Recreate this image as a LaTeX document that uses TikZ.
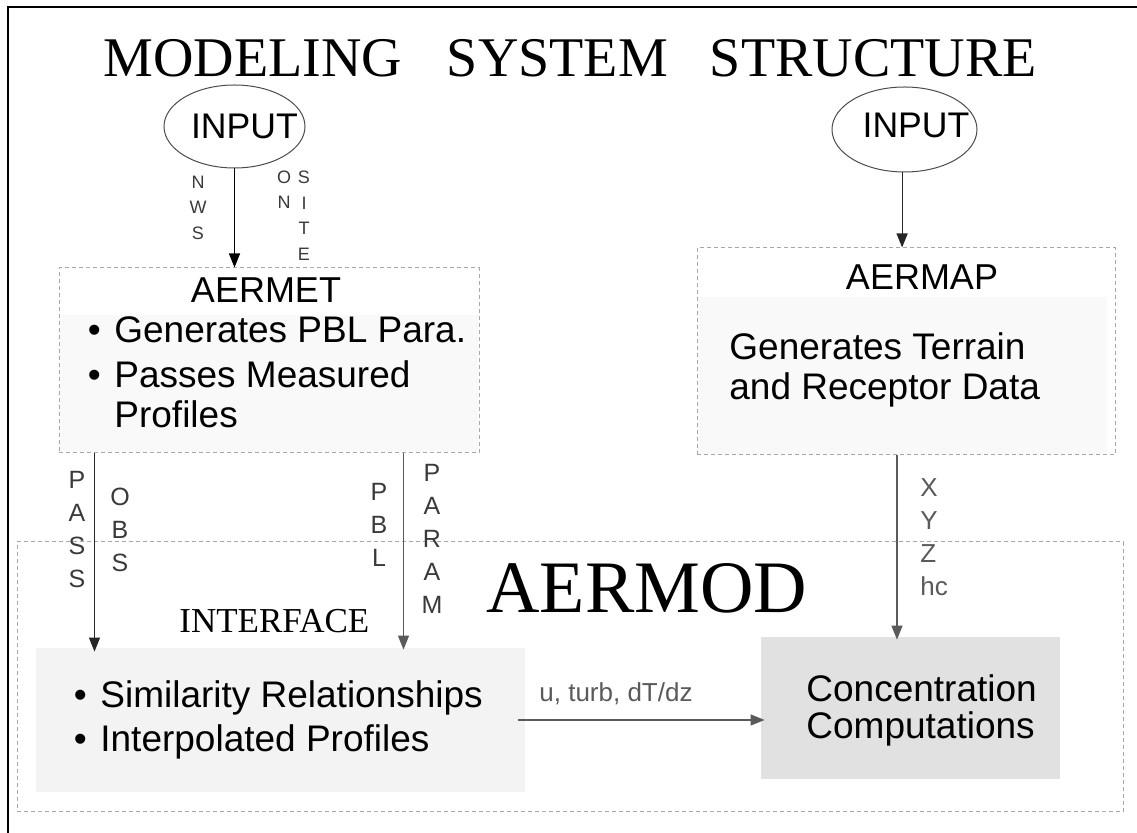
\documentclass[tikz,border=0pt]{standalone}
\usepackage{fontspec}
\setmainfont{Liberation Sans}
\newfontfamily\serifface{Liberation Serif}
\usetikzlibrary{shapes.geometric,arrows.meta}
\definecolor{dashgray}{HTML}{A8A8A8}
\definecolor{fillA}{HTML}{F9F9F9}
\definecolor{fillB}{HTML}{F3F3F3}
\definecolor{fillC}{HTML}{E1E1E1}
\definecolor{labgray}{HTML}{3A3A3A}
\definecolor{arrgray}{HTML}{5A5A5A}
\newcommand\mybul{\makebox[13.25pt][l]{\textbullet}}
\tikzset{
  dbox/.style={draw=dashgray, dash pattern=on 2pt off 1.5pt, line width=0.5pt, inner sep=0},
  inell/.style={ellipse, draw=black!70, line width=0.5pt, inner sep=0},
  arr/.style={-{Triangle[length=7pt,width=5.5pt]}, line width=0.6pt},
  body/.style={font=\fontsize{18.5}{22}\selectfont, inner sep=0},
  hd/.style={font=\fontsize{18}{22}\selectfont, inner sep=0},
  smalllab/.style={font=\fontsize{9}{12.75}\selectfont, align=center, inner sep=0, text=labgray},
  midlab/.style={font=\fontsize{12.5}{16.5}\selectfont, align=center, inner sep=0, text=labgray},
}
\begin{document}
\begin{tikzpicture}[x=0.5pt,y=-0.5pt]
\useasboundingbox (0,0) rectangle (1137,833);
\fill[white] (0,0) rectangle (1137,833);
% outer frame (left and top visible)
\draw[line width=1pt] (8,833) -- (8,7) -- (1137,7);

% title
\node[font=\serifface\fontsize{28}{30}\selectfont, anchor=base west, inner sep=0] (title) at (103,77)
  {MODELING\hspace{22.5pt}SYSTEM\hspace{21pt}STRUCTURE};

% input ellipses
\node[inell, minimum width=70.5pt, minimum height=41.5pt] (in1) at (234.5,126.5) {};
\node[font=\fontsize{17.8}{20}\selectfont, anchor=base, inner sep=0] (in1t) at (244.5,139) {INPUT};
\node[inell, minimum width=72.5pt, minimum height=42.5pt] (in2) at (904.5,129.5) {};
\node[font=\fontsize{17.8}{20}\selectfont, anchor=base, inner sep=0] (in2t) at (916,138) {INPUT};

% AERMET box
\fill[fillA] (60,315) rectangle (478,452);
\node[dbox, minimum width=210pt, minimum height=92.5pt] (aermet) at (269,360.5) {};
\node[hd, anchor=base] (aermett) at (266,303) {AERMET};
\node[body, anchor=base west] (am1) at (87.5,343) {\mybul Generates PBL Para.};
\node[body, anchor=base west] (am2) at (87.5,388) {\mybul Passes Measured};
\node[body, anchor=base west] (am3) at (114,428) {Profiles};

% AERMAP box
\fill[fillA] (698,297) rectangle (1107,454);
\node[dbox, minimum width=209pt, minimum height=103.5pt] (aermap) at (906,351.5) {};
\node[hd, anchor=base] (aermapt) at (922,290) {AERMAP};
\node[body, anchor=base west] (ap1) at (729,360) {Generates Terrain};
\node[body, anchor=base west] (ap2) at (729,400) {and Receptor Data};

% AERMOD box
\node[dbox, minimum width=553pt, minimum height=135pt] (aermod) at (570,677) {};
\node[font=\serifface\fontsize{37}{40}\selectfont, anchor=base west, inner sep=0] (aermodt) at (486,613) {AERMOD};
\node[font=\serifface\fontsize{17.5}{20}\selectfont, anchor=base west, inner sep=0] (ifacet) at (179,633) {INTERFACE};

% interface box
\node[fill=fillB, minimum width=244.5pt, minimum height=72pt, inner sep=0] (iface) at (280.5,720) {};
\node[body, anchor=base west] (if1) at (73.5,708) {\mybul Similarity Relationships};
\node[body, anchor=base west] (if2) at (73.5,752) {\mybul Interpolated Profiles};

% concentration box
\node[fill=fillC, minimum width=149.5pt, minimum height=71pt, inner sep=0] (conc) at (910.5,708) {};
\node[body, anchor=base west] (cc1) at (806,702) {Concentration};
\node[body, anchor=base west] (cc2) at (806,739) {Computations};

% labels
\node[smalllab] (nws) at (198,207.5) {N\\W\\S};
\node[smalllab] (on) at (284,189.5) {O\\N};
\node[smalllab] (site) at (304,215.5) {S\\I\\T\\E};
\node[midlab] (pass) at (77,530) {P\\A\\S\\S};
\node[midlab] (obs) at (120,530) {O\\B\\S};
\node[midlab] (pbl) at (379,525) {P\\B\\L};
\node[midlab] (param) at (432,539) {P\\A\\R\\A\\M};
\node[midlab, align=left, anchor=west, text=arrgray, font=\fontsize{13}{16.5}\selectfont] (xyz) at (920,537) {X\\Y\\Z\\hc};
\node[font=\fontsize{13}{15}\selectfont, text=arrgray, anchor=base west, inner sep=0] (ulab) at (539,702) {u, turb, dT/dz};

% connectors
\draw[arr, black] (in1.south) -- (in1.south |- aermet.north);
\draw[arr, black!85] ([xshift=-1.2pt]in2.south) -- ([xshift=-1.2pt]in2.south |- aermap.north);
\draw[arr, black!85] ([xshift=18pt]aermet.south west) -- ([xshift=18pt,yshift=-2pt]aermet.south west |- iface.north);
\draw[arr, arrgray] ([xshift=172.5pt]aermet.south west) -- ([xshift=172.5pt,yshift=-1pt]aermet.south west |- iface.north);
\draw[arr, arrgray] ([xshift=-4.5pt]aermap.south) -- ([xshift=-4.5pt,yshift=-1.5pt]aermap.south |- conc.north);
\draw[arr, arrgray] ([xshift=-3.5pt]iface.east) -- ([xshift=2pt]iface.east -| conc.west);
\end{tikzpicture}
\end{document}
